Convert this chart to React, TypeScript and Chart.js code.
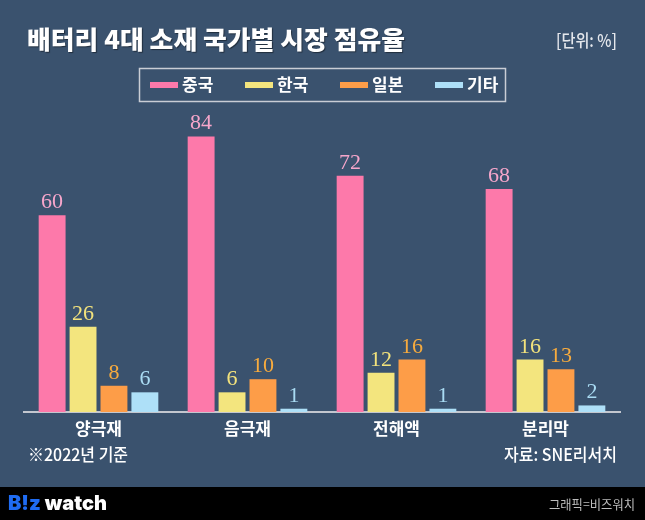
import React, { useEffect, useRef } from "react";
import { Chart, registerables } from "chart.js";

Chart.register(...registerables);

const categories = ["양극재", "음극재", "전해액", "분리막"];
const seriesNames = ["중국", "한국", "일본", "기타"];
const chinaValues = [60, 84, 72, 68];
const koreaValues = [26, 6, 12, 16];
const japanValues = [8, 10, 16, 13];
const otherValues = [6, 1, 1, 2];

const titleText = "배터리 4대 소재 국가별 시장 점유율";
const unitText = "[단위: %]";
const noteText = "※2022년 기준";
const sourceText = "자료: SNE리서치";
const creditText = "그래픽=비즈워치";

const barColors = ["#fd79aa", "#f3e57e", "#fd9d48", "#aee0f8"];
const labelColors = ["#f6a6cb", "#f2e27c", "#f7ab3e", "#a9dbf3"];

const BG = "#3a526e";
const KR = "'Noto Sans CJK KR', 'Noto Sans', sans-serif";

function fitText(
  ctx: CanvasRenderingContext2D,
  text: string,
  x: number,
  y: number,
  width: number,
  align: "left" | "right" | "center"
) {
  const w = ctx.measureText(text).width;
  let s = width / w;
  if (s > 1.25) s = 1.25;
  if (s < 0.75) s = 0.75;
  ctx.save();
  ctx.translate(x, y);
  ctx.scale(s, 1);
  ctx.textAlign = "left";
  const dx = align === "right" ? -w : align === "center" ? -w / 2 : 0;
  ctx.fillText(text, dx, 0);
  ctx.restore();
}

const decorPlugin = {
  id: "decor",
  beforeDraw(chart: any) {
    const ctx: CanvasRenderingContext2D = chart.ctx;
    const W = chart.width;
    const H = chart.height;
    ctx.save();
    ctx.fillStyle = BG;
    ctx.fillRect(0, 0, W, H);
    ctx.fillStyle = "#000000";
    ctx.fillRect(0, 487, W, H - 487);
    ctx.restore();
  },
  afterDraw(chart: any) {
    const ctx: CanvasRenderingContext2D = chart.ctx;
    ctx.save();
    ctx.textBaseline = "middle";

    // Title
    ctx.font = `900 25px ${KR}`;
    ctx.fillStyle = "#ffffff";
    ctx.shadowColor = "rgba(0,0,0,0.45)";
    ctx.shadowOffsetX = 1;
    ctx.shadowOffsetY = 1;
    ctx.shadowBlur = 1;
    fitText(ctx, titleText, 27, 39, 378, "left");
    ctx.shadowColor = "transparent";

    // Unit
    ctx.font = `500 17px ${KR}`;
    ctx.fillStyle = "#e4e7ec";
    fitText(ctx, unitText, 617, 41, 61, "right");

    // Legend box
    ctx.strokeStyle = "#c9cdd5";
    ctx.lineWidth = 1.5;
    ctx.strokeRect(139.5, 68.5, 366, 33);
    const swatchX = [150, 245, 340, 435];
    chart.data.datasets.forEach((ds: any, i: number) => {
      ctx.fillStyle = ds.backgroundColor;
      ctx.fillRect(swatchX[i], 82, 28, 6);
      ctx.fillStyle = "#ffffff";
      ctx.font = `bold 17px ${KR}`;
      ctx.textAlign = "left";
      ctx.fillText(ds.label, swatchX[i] + 32, 85);
    });

    // Notes
    ctx.font = `500 17px ${KR}`;
    ctx.fillStyle = "#ffffff";
    fitText(ctx, noteText, 28, 455, 100, "left");
    fitText(ctx, sourceText, 617, 455, 113, "right");

    // Footer logo
    ctx.font = `900 20px Inter, 'Noto Sans', sans-serif`;
    ctx.textAlign = "left";
    ctx.fillStyle = "#1f6cf2";
    ctx.fillText("B!z", 8, 504);
    const bw = ctx.measureText("B!z ").width;
    ctx.fillStyle = "#ffffff";
    ctx.fillText("watch", 8 + bw, 504);

    ctx.font = `13px ${KR}`;
    ctx.fillStyle = "#bdbdbd";
    fitText(ctx, creditText, 635, 504, 86, "right");

    // Value labels
    ctx.textBaseline = "alphabetic";
    ctx.textAlign = "center";
    ctx.font = `22px 'Liberation Serif', 'DejaVu Serif', serif`;
    chart.data.datasets.forEach((ds: any, i: number) => {
      const meta = chart.getDatasetMeta(i);
      meta.data.forEach((el: any, j: number) => {
        ctx.fillStyle = labelColors[i];
        ctx.fillText(String(ds.data[j]), el.x, el.y - 7);
      });
    });
    ctx.restore();
  },
};

export default function App() {
  const canvasRef = useRef<HTMLCanvasElement | null>(null);

  useEffect(() => {
    const canvas = canvasRef.current;
    if (!canvas) return;
    const seriesValues = [chinaValues, koreaValues, japanValues, otherValues];
    const chart = new Chart(canvas, {
      type: "bar",
      data: {
        labels: categories,
        datasets: seriesNames.map((name, i) => ({
          label: name,
          data: seriesValues[i],
          backgroundColor: barColors[i],
          borderWidth: 0,
          categoryPercentage: 0.83,
          barPercentage: 0.87,
        })),
      },
      options: {
        responsive: false,
        animation: false,
        devicePixelRatio: 1,
        layout: { padding: { top: 84, left: 24, right: 25, bottom: 78 } },
        plugins: {
          legend: { display: false },
          title: { display: false },
          tooltip: { enabled: false },
        },
        scales: {
          x: {
            grid: { display: false, drawTicks: false },
            border: { display: true, color: "#c3c7cf", width: 2 },
            ticks: {
              color: "#ffffff",
              padding: 6,
              font: { family: "'Noto Sans CJK KR', 'Noto Sans', sans-serif", size: 17, weight: "bold" },
            },
            afterFit: (scale: any) => {
              scale.height = 30;
            },
          },
          y: {
            display: false,
            min: 0,
            max: 100,
          },
        },
      },
      plugins: [decorPlugin],
    });
    return () => chart.destroy();
  }, []);

  return (
    <div style={{ position: "fixed", left: 0, top: 0, width: 645, height: 520, background: BG }}>
      <canvas ref={canvasRef} width={645} height={520} style={{ display: "block" }} />
    </div>
  );
}
